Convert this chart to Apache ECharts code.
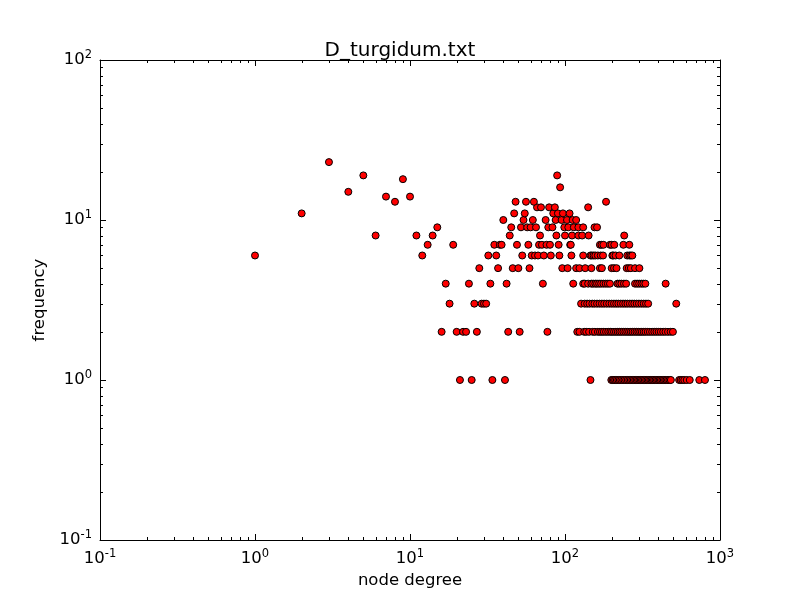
<!DOCTYPE html>
<html>
<head>
<meta charset="utf-8">
<title>D_turgidum.txt</title>
<script src="https://cdn.jsdelivr.net/npm/echarts@6/dist/echarts.min.js"></script>
<style>
  html, body { margin: 0; padding: 0; background: #fff; }
  #main { width: 800px; height: 600px; }
</style>
</head>
<body>
<div id="main"></div>
<script>
// node degrees, grouped by the frequency they were seen with
var f1 = [21, 25, 34, 41, 146, 199, 203, 207, 211, 216, 221, 226, 231, 237, 242, 248, 254, 260, 266, 272,
          278, 284, 290, 296, 302, 308, 314, 320, 327, 334, 341, 348, 355, 362, 369, 376, 384, 392, 400,
          408, 416, 425, 434, 443, 452, 462, 472, 482, 545, 558, 572, 588, 610, 638, 735, 800];
var f2 = [16, 20, 22, 23, 27, 43, 51, 77, 120, 124, 133, 137, 143, 151, 156, 163, 168, 173, 178, 184,
          190, 196, 201, 207, 213, 219, 225, 231, 238, 245, 252, 259, 266, 273, 281, 289, 297, 305, 313,
          322, 331, 342, 353, 365, 377, 389, 402, 415, 430, 445, 462, 480, 497];
var f3 = [18, 26, 29, 30, 31, 127, 134, 139, 144, 150, 155, 161, 167, 173, 179, 186, 193, 200, 207, 214,
          221, 229, 237, 245, 253, 262, 271, 280, 290, 300, 311, 322, 333, 344, 522];
var f4 = [17, 24, 33, 42, 72, 113, 131, 134, 141, 148, 152, 157, 161, 166, 171, 177, 183, 189, 195, 218,
          224, 231, 240, 248, 283, 292, 301, 311, 320, 330, 446];
var f5 = [28, 37, 46, 50, 59, 96, 104, 118, 124, 135, 148, 168, 173, 200, 207, 215, 250, 258, 266, 283, 302];
var f6 = [1, 12, 32, 36, 53, 61, 64, 67, 73, 81, 92, 110, 131, 146, 149, 153, 157, 163, 170, 176, 202,
          205, 212, 224, 252, 260, 266, 272];
var f7 = [13, 19, 35, 38, 39, 49, 58, 68, 71, 76, 80, 91, 108, 109, 168, 172, 177, 195, 200, 208, 238, 260];
var f8 = [6, 11, 14, 44, 69, 88, 100, 111, 122, 129, 142, 241];
var f9 = [15, 45, 52, 57, 60, 65, 78, 83, 99, 105, 114, 122, 131, 155, 161];
var f10 = [40, 54, 62, 75, 87, 95, 103, 112, 118];
var f11 = [2, 47, 55, 84, 90, 97, 107];
var f12 = [66, 70, 79, 86, 141];
var f13 = [8, 48, 56, 63, 184];
var f14 = [7, 10];
var f15 = [4];
var f16 = [93];
var f18 = [9];
var f19 = [5, 89];
var f23 = [3];

var freqRows = [[1, f1], [2, f2], [3, f3], [4, f4], [5, f5], [6, f6], [7, f7], [8, f8], [9, f9],
                [10, f10], [11, f11], [12, f12], [13, f13], [14, f14], [15, f15], [16, f16],
                [18, f18], [19, f19], [23, f23]];

// axis ranges (decades)
var xDecades = [-1, 0, 1, 2, 3];
var yDecades = [-1, 0, 1, 2];

var points = [];
freqRows.forEach(function (row) {
    row[1].forEach(function (d) { points.push([d, row[0]]); });
});

// minor tick values 2..9 in each decade
function minors(decs) {
    var out = [];
    for (var i = 0; i < decs.length - 1; i++) {
        for (var k = 2; k <= 9; k++) out.push(k * Math.pow(10, decs[i]));
    }
    return out;
}
var xMinor = minors(xDecades).map(function (v) { return [v, 1]; });
var yMinor = minors(yDecades).map(function (v) { return [1, v]; });

function powLabel(v) {
    var e = Math.round(Math.log(v) / Math.LN10);
    return '{b|10}{s|' + e + '}';
}
var labelRich = {
    b: { fontSize: 16.5, color: '#000', fontFamily: 'DejaVu Sans' },
    s: { fontSize: 11.5, color: '#000', fontFamily: 'DejaVu Sans', padding: [0, 0, 9, 0] }
};

function logAxis(pos, lo, hi, withLabels, name, gap) {
    return {
        type: 'log',
        logBase: 10,
        position: pos,
        min: Math.pow(10, lo),
        max: Math.pow(10, hi),
        name: withLabels ? name : '',
        nameLocation: 'middle',
        nameGap: gap,
        nameTextStyle: { fontSize: 16.5, color: '#000', fontFamily: 'DejaVu Sans' },
        axisLine: { show: true, onZero: false, lineStyle: { color: '#000', width: 1 } },
        axisTick: { show: true, inside: true, length: 6, lineStyle: { color: '#000' } },
        axisLabel: { show: withLabels, formatter: powLabel, rich: labelRich, margin: 8 },
        splitLine: { show: false }
    };
}

var Mychart = echarts.init(document.getElementById('main'));

function minorTick(isX) {
    return function (params, api) {
        var cs = params.coordSys;
        var p = api.coord([api.value(0), api.value(1)]);
        var len = 3;
        var st = { stroke: '#000', lineWidth: 1 };
        if (isX) {
            var x = Math.round(p[0]) + 0.5;
            return { type: 'group', children: [
                { type: 'line', shape: { x1: x, y1: cs.y + cs.height, x2: x, y2: cs.y + cs.height - len }, style: st },
                { type: 'line', shape: { x1: x, y1: cs.y, x2: x, y2: cs.y + len }, style: st }
            ]};
        }
        var y = Math.round(p[1]) + 0.5;
        return { type: 'group', children: [
            { type: 'line', shape: { x1: cs.x, y1: y, x2: cs.x + len, y2: y }, style: st },
            { type: 'line', shape: { x1: cs.x + cs.width, y1: y, x2: cs.x + cs.width - len, y2: y }, style: st }
        ]};
    };
}

var option = {
    backgroundColor: '#fff',
    animation: false,
    title: {
        text: 'D_turgidum.txt',
        left: 'center',
        top: 36,
        textStyle: { fontSize: 20, fontWeight: 'normal', color: '#000', fontFamily: 'DejaVu Sans' }
    },
    grid: { left: 100, right: 80, top: 60, bottom: 60 },
    xAxis: [
        logAxis('bottom', xDecades[0], xDecades[xDecades.length - 1], true, 'node degree', 32),
        logAxis('top', xDecades[0], xDecades[xDecades.length - 1], false, '', 0)
    ],
    yAxis: [
        logAxis('left', yDecades[0], yDecades[yDecades.length - 1], true, 'frequency', 50),
        logAxis('right', yDecades[0], yDecades[yDecades.length - 1], false, '', 0)
    ],
    series: [
        {
            type: 'custom',
            renderItem: minorTick(true),
            data: xMinor,
            silent: true
        },
        {
            type: 'custom',
            renderItem: minorTick(false),
            data: yMinor,
            silent: true
        },
        {
            name: 'degree',
            type: 'scatter',
            symbol: 'circle',
            symbolSize: 7,
            data: points,
            itemStyle: { color: '#ff0000', borderColor: '#000', borderWidth: 1, opacity: 1 }
        }
    ]
};
Mychart.setOption(option);
</script>
</body>
</html>
